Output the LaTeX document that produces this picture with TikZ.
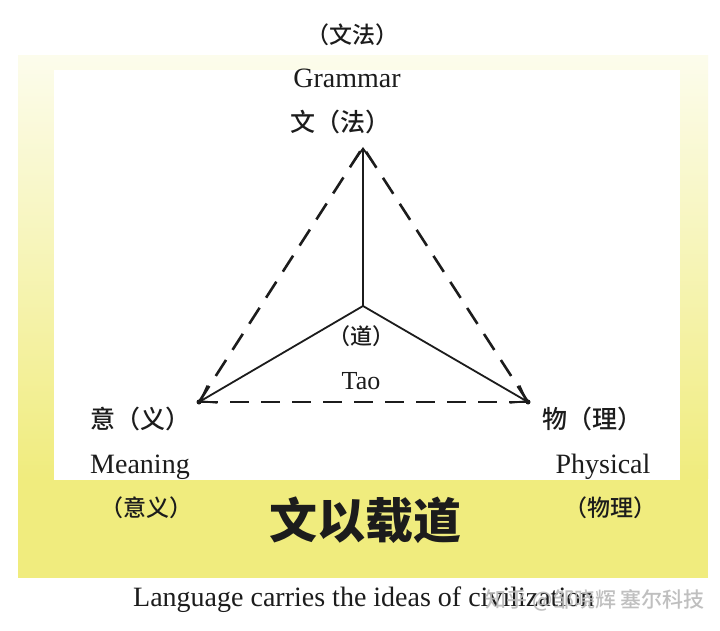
\documentclass[tikz,border=0pt]{standalone}
\usepackage{fontspec}
\setmainfont{Liberation Serif}
\newfontfamily\cjk{Noto Sans CJK SC}[UprightFont=* Medium, BoldFont=* Bold]
\newfontfamily\cjkbold{Noto Sans CJK SC}[UprightFont=* Black, BoldFont=* Black]
\usetikzlibrary{arrows.meta}
\definecolor{ink}{RGB}{28,28,28}
\definecolor{paleyellow}{RGB}{252,252,236}
\definecolor{midyellow}{RGB}{249,248,210}
\definecolor{deepyellow}{RGB}{240,236,126}
\tikzset{
  en/.style={font=\fontsize{28}{30}\selectfont, text=ink, inner sep=0pt},
  zh/.style={font=\cjk\fontsize{23}{25}\selectfont, text=ink, inner sep=0pt},
  solidarrow/.style={draw=ink, line width=1.8pt, -{Straight Barb[length=14pt,width=20pt,line width=1.8pt]}},
  dashline/.style={draw=ink, line width=2.6pt, dash pattern=on 19pt off 12pt},
  vdot/.style={circle, fill=ink, inner sep=0pt, minimum size=5pt}
}
\begin{document}
\begin{tikzpicture}[x=1pt,y=-1pt]
\useasboundingbox (0,0) rectangle (720,631);
\fill[white] (0,0) rectangle (720,631);
% yellow frame
\shade[top color=paleyellow, middle color=midyellow, bottom color=deepyellow] (18,56) rectangle (708,478);
\fill[deepyellow] (18,478) rectangle (708,578);
\fill[white] (54,70) rectangle (680,480);
% key points
\coordinate (apex) at (363,147);
\coordinate (tao) at (363,306);
\coordinate (L) at (199,402);
\coordinate (R) at (528,402);
% dashed triangle
\draw[dashline] (L) -- (apex);
\draw[dashline] (R) -- (apex);
\draw[dashline] (L) -- (R);
\node[vdot] (Ldot) at (L) {};
\node[vdot] (Rdot) at (R) {};
% solid arrows from Tao
\draw[solidarrow] (tao) -- (apex);
\draw[solidarrow] (tao) -- (L);
\draw[solidarrow] (tao) -- (R);
% labels
\node[zh] (wenfaTop) at (352,35) {（文法）};
\node[en] (grammar) at (347,78) {Grammar};
\node[zh, font=\cjk\fontsize{25}{27}\selectfont] (wenfa) at (340,122) {文（法）};
\node[zh, font=\cjk\fontsize{22}{24}\selectfont] (dao) at (361,336) {（道）};
\node[en, font=\fontsize{26}{28}\selectfont] (taoText) at (361,381) {Tao};
\node[zh, font=\cjk\fontsize{25}{27}\selectfont] (yi) at (140,419) {意（义）};
\node[en] (meaning) at (140,467) {Meaning};
\node[zh] (yi2) at (146,508) {（意义）};
\node[zh, font=\cjk\fontsize{25}{27}\selectfont] (wu) at (592,419) {物（理）};
\node[en] (physical) at (603,467) {Physical};
\node[zh] (wu2) at (610,508) {（物理）};
\node[text=ink, inner sep=0pt, font=\cjkbold\fontsize{48}{50}\selectfont] (title) at (365,520) {文以载道};
\node[en, anchor=west] (caption) at (133,600) {Language carries the ideas of civilization};
\node[font=\cjk\fontsize{21}{23}\selectfont, text=gray!55, anchor=east, inner sep=0pt, opacity=0.9] (watermark) at (705,600) {知乎 @邹晓辉 塞尔科技};
\end{tikzpicture}
\end{document}
